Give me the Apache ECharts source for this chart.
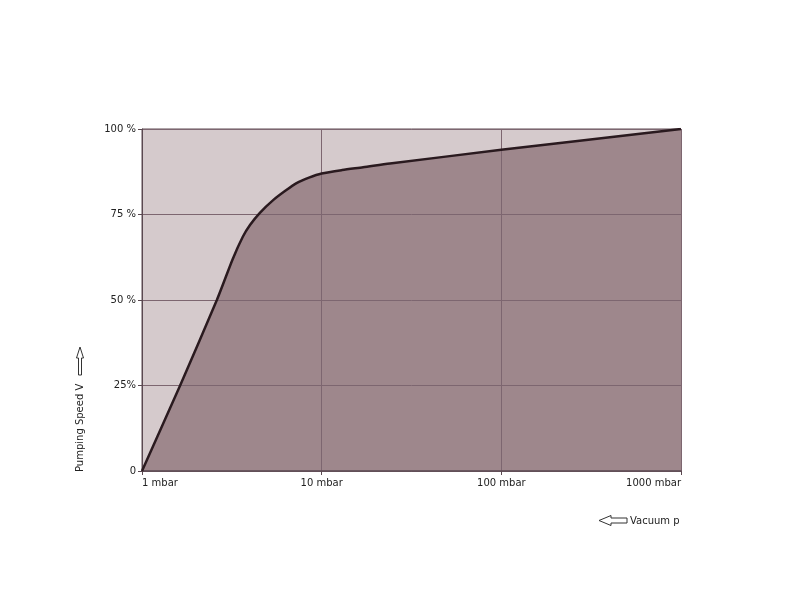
<!DOCTYPE html>
<html>
<head>
<meta charset="utf-8">
<script src="https://cdn.jsdelivr.net/npm/echarts@6/dist/echarts.min.js"></script>
<style>
  html, body { margin: 0; padding: 0; background: #fff; }
  #main { width: 800px; height: 600px; }
</style>
</head>
<body>
<div id="main"></div>
<script>
// pressure in mbar (log axis) and pumping speed in %
var pressure = [1, 1.63, 2.61, 3.2, 3.64, 4.0, 4.53, 5.37, 6.3, 7.25, 8.5, 10, 13, 17, 24, 100, 1000];
var speed    = [0, 25, 50, 62, 68.5, 72, 75.5, 79.2, 82, 84.2, 85.8, 87, 88.0, 88.8, 89.9, 93.9, 100];
var yTicks = { 0: '0', 25: '25%', 50: '50 %', 75: '75 %', 100: '100 %' };
var xTicks = { 1: '1 mbar', 10: '10 mbar', 100: '100 mbar', 1000: '1000 mbar' };

var curve = pressure.map(function (p, i) { return [p, speed[i]]; });

var myChart = echarts.init(document.getElementById('main'));
var option = {
  backgroundColor: '#fff',
  animation: false,
  grid: { left: 142, right: 119, top: 129, bottom: 129, show: true,
          backgroundColor: '#d5cacc', borderColor: '#5e4a52', borderWidth: 1 },
  xAxis: {
    type: 'log', logBase: 10, min: 1, max: 1000, z: 2,
    axisLine: { show: true, lineStyle: { color: '#5a4850', width: 1.5 } },
    axisTick: { show: true, length: 4, lineStyle: { color: '#5a4850' } },
    minorTick: { show: false },
    splitLine: { show: true, lineStyle: { color: '#7d6670', width: 1 } },
    axisLabel: { color: '#222', fontFamily: 'DejaVu Sans', fontSize: 10, margin: 7,
                 alignMinLabel: 'left', alignMaxLabel: 'right',
                 formatter: function (v) { return xTicks[v] || ''; } }
  },
  yAxis: {
    type: 'value', min: 0, max: 100, interval: 25, z: 2,
    axisLine: { show: true, lineStyle: { color: '#5a4850' } },
    axisTick: { show: true, length: 4, lineStyle: { color: '#5a4850' } },
    splitLine: { show: true, lineStyle: { color: '#7d6670', width: 1 } },
    axisLabel: { color: '#222', fontFamily: 'DejaVu Sans', fontSize: 10, margin: 6,
                 formatter: function (v) { return yTicks[v]; } }
  },
  series: [{
    type: 'line',
    data: curve,
    smooth: 0.25,
    symbol: 'none',
    z: 1,
    lineStyle: { width: 0 },
    areaStyle: { color: '#9e878c', opacity: 1 }
  }, {
    type: 'line',
    data: curve,
    smooth: 0.25,
    symbol: 'none',
    z: 3,
    lineStyle: { color: '#2a1a1f', width: 2.5 }
  }],
  graphic: [
    { type: 'text', x: 75, y: 472, rotation: Math.PI / 2,
      style: { text: 'Pumping Speed V', fill: '#222', font: '10px "DejaVu Sans"',
               textVerticalAlign: 'top' } },
    { type: 'polygon', shape: { points: [[78.5, 375], [78.5, 358], [76.5, 358], [80, 347], [83.5, 358], [81.5, 358], [81.5, 375]] },
      style: { fill: '#fff', stroke: '#333', lineWidth: 1 } },
    { type: 'polygon', shape: { points: [[627, 518], [611, 518], [611, 515.5], [599, 520.5], [611, 525.5], [611, 523], [627, 523]] },
      style: { fill: '#fff', stroke: '#333', lineWidth: 1 } },
    { type: 'text', x: 630, y: 521,
      style: { text: 'Vacuum p', fill: '#222', font: '10px "DejaVu Sans"', textVerticalAlign: 'middle' } }
  ]
};
myChart.setOption(option);
</script>
</body>
</html>
